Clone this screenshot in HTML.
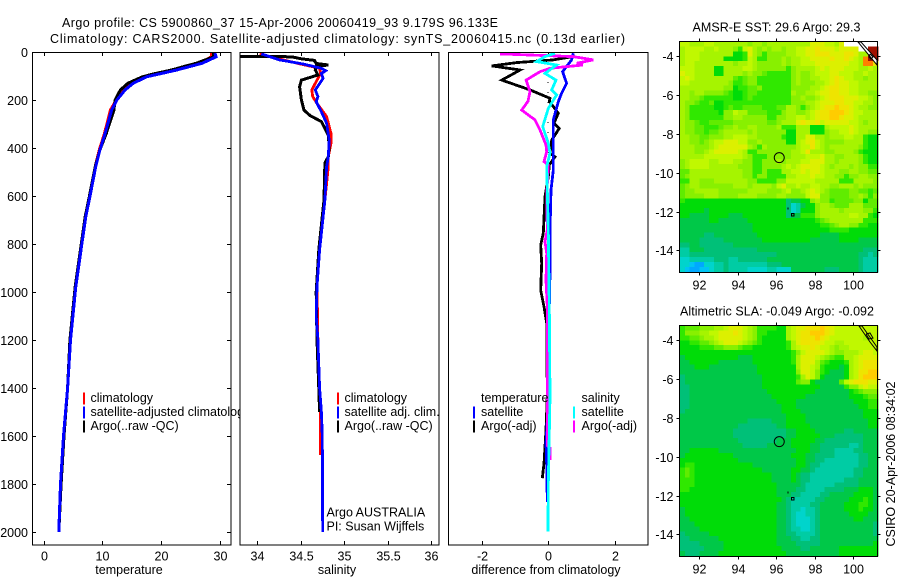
<!DOCTYPE html>
<html>
<head>
<meta charset="utf-8">
<title>Argo profile</title>
<style>
html,body{margin:0;padding:0;background:#fff;}
svg{display:block;}
text{font-family:"Liberation Sans",Arial,sans-serif;font-size:12.5px;fill:#000;}
</style>
</head>
<body>
<svg id="chart" xmlns="http://www.w3.org/2000/svg" width="900" height="580" viewBox="0 0 900 580">
<rect x="0" y="0" width="900" height="580" fill="#fff"/>
<text x="62" y="27" textLength="436">Argo profile: CS 5900860_37 15-Apr-2006 20060419_93 9.179S 96.133E</text>
<text x="50" y="43" textLength="575">Climatology: CARS2000. Satellite-adjusted climatology: synTS_20060415.nc (0.13d earlier)</text>
<defs>
<clipPath id="clipT"><rect x="32" y="52" width="199" height="493"/></clipPath>
<clipPath id="clipS"><rect x="240" y="52" width="199" height="493"/></clipPath>
<clipPath id="clipD"><rect x="448" y="52" width="200" height="493"/></clipPath>
</defs>
<g id="panels"></g>
<g id="maps"></g>
<text x="692.5" y="31.5" textLength="168">AMSR-E SST: 29.6 Argo: 29.3</text>
<text x="680" y="315.5" textLength="194">Altimetric SLA: -0.049 Argo: -0.092</text>
<text transform="translate(895,546.5) rotate(-90)" textLength="165">CSIRO 20-Apr-2006 08:34:02</text>
</svg>
<script>
// ---------- Temperature panel data ----------
const tempDepths = [5,20,47,60,75,90,103,130,158,200,242,339,408,478,603,686,804,978,1200,1400,1600,1800,2000];
const tempClim   = [28.6,28.6,26.5,24.6,22.4,19.7,17.4,15.0,13.6,12.4,11.4,10.4,9.5,8.8,7.9,7.2,6.5,5.5,4.6,4.1,3.4,2.9,2.6];
const tempArgo   = [29.0,29.0,26.0,24.0,21.8,19.0,16.9,14.4,13.1,12.2,12.0,10.7,9.6,8.8,7.8,7.1,6.4,5.4,4.5,4.1,3.5,3.0,2.6];
const tempSat    = [29.2,29.4,27.0,25.0,22.7,20.0,17.6,15.3,13.9,12.5,11.6,10.5,9.6,8.9,7.9,7.2,6.5,5.5,4.6,4.1,3.4,2.9,2.6];
// ---------- Salinity panel data ----------
const salClimDepths = [8,33,50,68,89,110,158,186,214,269,339,381,436,478,617,825,978,1200,1400,1500,1680];
const salClim       = [34.03,34.3,34.5,34.72,34.73,34.70,34.63,34.64,34.69,34.80,34.85,34.85,34.82,34.82,34.78,34.72,34.69,34.70,34.72,34.73,34.73];
const salArgoDepths = [18,20,28,35,48,54,60,75,96,117,145,200,242,265,290,346,395,436,463,617,825,1000,1200,1400,1500];
const salArgo       = [33.7,34.4,34.5,34.66,34.68,34.82,34.68,34.67,34.70,34.51,34.49,34.51,34.54,34.61,34.74,34.82,34.83,34.82,34.78,34.77,34.71,34.68,34.69,34.71,34.72];
const salSatDepths  = [8,33,50,68,78,89,110,158,186,207,249,297,367,436,478,617,825,978,1100,1200,1400,1500,1600,2000];
const salSat        = [34.05,34.26,34.53,34.74,34.79,34.74,34.76,34.67,34.70,34.68,34.74,34.80,34.83,34.82,34.80,34.78,34.72,34.69,34.68,34.70,34.72,34.74,34.75,34.755];
// ---------- Difference panel data ----------
const diffTempSatDepths = [5,33,82,130,172,207,283,380,492,575,742,921,1061,1436,1533,1631,1714,1874];
const diffTempSat       = [0.76,0.71,0.44,0.56,0.41,0.31,0.16,0.16,0.16,0.09,0.06,0.06,0.04,0.03,-0.02,-0.06,-0.04,-0.02];
const diffTempArgoDepths = [18,33,44,58,75,117,158,193,205,255,297,318,367,421,437,470,520,603,755,804,880,992,1061,1130,1430,1575,1714,1776];
const diffTempArgo       = [0.8,0.16,-0.94,-1.69,-0.84,-1.39,-0.54,0.06,0.04,0.31,0.18,0.34,0.11,0.06,0.21,0.04,0.01,-0.09,-0.14,-0.22,-0.19,-0.22,-0.12,-0.04,-0.02,-0.06,-0.12,-0.17];
const diffSalSatDepths = [5,19,40,54,89,117,158,179,235,311,380,421,478,742,1061,1436,1800,1998];
const diffSalSat       = [0.21,-0.09,-0.34,0.26,-0.09,0.24,0.11,0.26,0.01,-0.16,0.01,0.06,-0.04,0.01,0.04,0.06,0.01,0.0];
const diffSalArgoDepths = [8,19,33,47,54,68,82,117,140,165,205,242,283,325,388,415,457,470,603,742,790,838,950,1061,1400,1640,1650,1700];
const diffSalArgo       = [-1.44,0.76,1.36,0.86,1.05,0.06,-0.24,-0.66,-0.60,-0.54,-0.60,-0.79,-0.39,-0.24,-0.06,-0.04,-0.12,0.01,-0.04,-0.02,-0.09,-0.04,-0.06,-0.02,-0.02,-0.02,0.06,0.06];
const zeroLineDepths = [0,2000];
const zeroLineValues = [0,0];
// ---------- Tick labels ----------
const depthTicks = [0,200,400,600,800,1000,1200,1400,1600,1800,2000];
const tempTicks = [0,10,20,30];
const salTicks = [34,34.5,35,35.5,36];
const diffTicks = [-2,0,2];
const lonTicks = [92,94,96,98,100];
const latTicks = [-4,-6,-8,-10,-12,-14];
// ---------- Map data (one character per cell, see mapPalette) ----------
const sstGrid = [
"BBAAABBAAAAAAA9AA9AAAAAAAAACCCBBACWWWWWWW",
"ABBBBAABAAA97BCA9A9AA9AABBCCDCCCBCCCCWWGG",
"ABBBAAAAAAA667CA979999AABBCCDDDCCCDDCAAGG",
"ABBBAAAAA66667BA77999A9AABBCCCCDCCDCBAFGG",
"ABBAAAAAAAA9AABA99999A9AABBBCCCCCCCBBAFFD",
"BBBAAAA66AAAABBA99999979AAAABCBCCCBBBAABA",
"CBBAAAA66AAAA9A998777779A99ABBBCCBBBAABAA",
"BCBAAAAAAAA8789977777779A99AABBCDCBBAA9AA",
"BBAAAAAAAA97789977777779A999AABCDCCBBAAAA",
"AAAAAAAAA996778897777779999AABCDDCCBBAAAA",
"AA9AA999987667887777777A99AABCCDDCCBBAA99",
"AA998777777667877777777 9A99ABCDDDCCCBBA9".replace(" ","9"),
"A99877866777777777777779 9AABCCCDDCCBBAA9".replace(" ","9"),
"A977777667877888877788AA979ABCDDEDDCBAA99",
"A9777777699BAA88887779AA99ABCDDEEEDCBBAAA",
"A9777777799AA999997799AABBABCDDEEDCCBAAAA",
"A99877888889999999889AAACDCCDBCCCCCBBA9AA",
"A9988777899A99AA9999A777AAA666ABBBBCBAAAA",
"A99887889AAAAA9A99999966AAA6669AABBCBAA99",
"AA9988999AABBBAA99999766AACCAA9AAABBAA766",
"AA9989ABBCCCBB99A9999966ABCDBA9999AAAA766",
"AAA999ABCCCCCCA97A999999ABBDBA9AAAAAA9766",
"AAA99ABCCCCCBA77999999 9AABDAAA99AAAA9766".replace(" ",""),
"AAAAABBBBBBBBA977799999AAABBBCAA99AAA9766",
"9ABBBBAABBBAA9977999A9AAABBCCCAA9AAAA9766",
"9ABBBBAAAAAA999779999ABABCCCCBA9AAA9A9977",
"88AAAAAAAAAAA99779777AABBCBCCBAAA99AA9988",
"89AAAAAAAAAAA997997777AABBBCBBAA99799AA99",
"77AA999AAAAAAA99777799BBBBBBAAAAA777AAAA9",
"89AA9999999AAA9AAAA9BCAABAABBAA99AAA9A999",
"899AAAAA999999AAAA999AB99ABCBA98888998878",
"89999AAA9999AAAA9999AA9999BCC99888899A979",
"7666666666666666666666455669A997888899688",
"66666666666666666666664235669AA9888AAA888",
"66666566666666666666664236669AAAA9AAAA997",
"66555566665556666666664557779AAAAAABBAA76",
"55555566555555666666666666667 89AAAAAAA77".replace(" ",""),
"55555555555555566666666666666778 9AA99776".replace(" ",""),
"55555555555555566666666666666667777666666",
"55555445555555556666666666666555566666666",
"55554444455555555666666666655555566665555",
"44554444444555555555555555555555555555555",
"33555444444444445555555555555555555555444",
"33444444444444444444555555555555555554434",
"22333334443344444455555555555555555554333",
"22100223343333333344455555555555555554333",
"21001123343333222233222555555544455554333"
];
const slaGrid = [
"7888999AABCCCBA9777766ABCCDDDEDCBBBBBBBBB",
"7999AABBCCCDCBA9776666ABCDDEEEDCBBBBBBBBB",
"77889AABCCCCCBA9766666ABCDDDEDCBBBBBBBABB",
"6677889ABCCCBA987666667ACDDDDCBBAABBBBBBB",
"66667778899987766666667ABCCDCBBA9AABBBBBB",
"66666666666666666666666 79BCCCCBA99AAABCCB".replace(" ",""),
"56666666666655566666666 7ACCCBA9877AABCCC".replace(" ",""),
"55666666555555566666666 7ACCCA876667ABCDD".replace(" ",""),
"55566655555555556666666 6ACCBA766656ABCDD".replace(" ",""),
"5555555555555555666666669CCB97655 56ABDDE".replace(" ",""),
"4555555555555555566666667ACB965555 6ABDEE".replace(" ",""),
"45555555555555555666666689965555 58BCDDDC".replace(" ",""),
"4455555555555555566666666666655555799BCB",
"44555555555555555566666666665555555 67899".replace(" ",""),
"4455555555555555555666666655555555566678",
"44555555555555555555666655555555555 56667".replace(" ",""),
"44555555555555555555566655555555555 55667".replace(" ",""),
"45555555555555555555566665555555555 55566".replace(" ",""),
"55555555555555555555556666555555555 55566".replace(" ",""),
"55555555555555444445556666555555555 55556".replace(" ",""),
"55555555555544444444556666655555555 55556".replace(" ",""),
"55555555555444444444445566665555554455555",
"55555555555444444444445566666555444444555",
"55555555555544444444555666665544444444555",
"55555555555554444455555666655444444334555",
"55666666555555555555555566655444333344555",
"56666666666555555555555666554444333334455",
"66666666666655555555555566554433333334455",
"67766666666666655555555566544333333334455",
"78766666666666666555555665543333333344555",
"78766666666666666665555654433333333344555",
"77766666666666666665555654433333334445555",
"77766666666666666666555554333333444445555",
"77666666666666666666555544333344445556665",
"66666666666666666666555443333445555566665",
"66666666666666666666654333334455555666765",
"66666666666666666666554333344555556667765",
"56666666666666666666554332334555556667665",
"56666666666666666666554322334555555666655",
"55666666666666666666554322234555555566555",
"55566666666666666666554322234555555555554",
"55556666666666666666554332234555555555554",
"45555566666666666666554433334555555555554",
"44555555666666666666555443344555555555555",
"44445555566666666666555544444555555555556",
"44444555566666666666655554455555566666666",
"54445555666666666666665555555555566666666"
];
const mapPalette = {"0":"#00a8ff","1":"#00c4f4","2":"#00d4cc","3":"#00cca4","4":"#00c078","5":"#00c848","6":"#00dc08","7":"#30e800","8":"#60ec00","9":"#88f000","A":"#a6f400","B":"#c0f800","C":"#dcf000","D":"#eee400","E":"#ffcc00","F":"#ff8000","G":"#a01000","W":"#ffffff"};

// ---------- Axis functions ----------
const depthY = d => 52 + 0.24 * d;
const tempX = v => 43.5 + 5.87 * v;
const salX = v => 257 + 87 * (v - 34);
const diffX = v => 548 + 33.25 * v;
const lonX = v => 680.1 + 19.2 * (v - 91);
const sstLatY = v => 56.3 + 19.4 * (-4 - v);
const slaLatY = v => 340.3 + 19.4 * (-4 - v);

const SVGNS = "http://www.w3.org/2000/svg";
const panels = document.getElementById("panels");
const maps = document.getElementById("maps");

function mk(parent, tag, name, attrs, txt) {
  const el = document.createElementNS(SVGNS, tag);
  
  
  for (const k in attrs) el.setAttribute(k, attrs[k]);
  if (txt !== undefined) el.textContent = txt;
  parent.appendChild(el);
  return el;
}
function seg(parent, name, x1, y1, x2, y2) {
  return mk(parent, "line", name, {x1:x1, y1:y1, x2:x2, y2:y2, stroke:"#000", "stroke-width":1, "shape-rendering":"crispEdges"});
}
function series(parent, name, depths, vals, xf, color, w, extra) {
  const pts = depths.map((d, i) => xf(vals[i]).toFixed(1) + "," + depthY(d).toFixed(1)).join(" ");
  const attrs = {points:pts, fill:"none", stroke:color, "stroke-width":w, "shape-rendering":"crispEdges"};
  for (const k in (extra || {})) attrs[k] = extra[k];
  return mk(parent, "polyline", name, attrs);
}
function panelFrame(name, x0, x1, xf, ticks, clip, xlabel, xlabelX) {
  const g = mk(panels, "g", name, {});
  mk(g, "rect", name + "-background", {x:x0, y:52, width:x1 - x0, height:493, fill:"#fff"});
  ticks.forEach(t => {
    const x = Math.round(xf(t)) + 0.5;
    seg(g, name + "-top-tick", x, 52, x, 56);
    seg(g, name + "-bottom-tick", x, 541, x, 545);
    mk(g, "text", name + "-x-tick-label", {x:x, y:560.5, "text-anchor":"middle"}, String(t));
  });
  mk(g, "text", name + "-x-axis-title", {x:xlabelX, y:574, "text-anchor":"middle"}, xlabel);
  const lines = mk(g, "g", name + "-series", {"clip-path":"url(#" + clip + ")"});
  mk(g, "rect", name + "-frame", {x:x0 + 0.5, y:52.5, width:x1 - x0 - 1, height:492.5, fill:"none", stroke:"#000", "stroke-width":1, "shape-rendering":"crispEdges"});
  return {g:g, lines:lines};
}
function legendEntry(g, name, barX, textX, baseY, color, label) {
  if (color) mk(g, "rect", name + "-swatch", {x:barX, y:baseY - 9.5, width:2, height:12, fill:color, "shape-rendering":"crispEdges"});
  mk(g, "text", name, {x:textX, y:baseY}, label);
}

// ---------- Temperature panel ----------
const pT = panelFrame("temperature-panel", 32, 231.5, tempX, tempTicks, "clipT", "temperature", 129);
depthTicks.forEach(d => {
  const y = Math.round(depthY(d)) + 0.5;
  seg(pT.g, "depth-tick-left", 32, y, 36, y);
  seg(pT.g, "depth-tick-right", 227, y, 231, y);
  mk(pT.g, "text", "depth-tick-label", {x:28, y:y + 4.5, "text-anchor":"end"}, String(d));
});
series(pT.lines, "temperature-climatology-line", tempDepths, tempClim, tempX, "#ff0000", 3);
series(pT.lines, "temperature-argo-line", tempDepths, tempArgo, tempX, "#000000", 3);
series(pT.lines, "temperature-satellite-line", tempDepths, tempSat, tempX, "#0000ff", 3);
legendEntry(pT.g, "legend-climatology", 83, 90.5, 402, "#ff0000", "climatology");
legendEntry(pT.g, "legend-satellite-adjusted", 83, 90.5, 416, "#0000ff", "satellite-adjusted climatology");
legendEntry(pT.g, "legend-argo", 83, 90.5, 430, "#000000", "Argo(..raw -QC)");

// ---------- Salinity panel ----------
const pS = panelFrame("salinity-panel", 239.5, 439.5, salX, salTicks, "clipS", "salinity", 337);
series(pS.lines, "salinity-climatology-line", salClimDepths, salClim, salX, "#ff0000", 2.8);
series(pS.lines, "salinity-argo-line", salArgoDepths, salArgo, salX, "#000000", 3);
series(pS.lines, "salinity-satellite-line", salSatDepths, salSat, salX, "#0000ff", 2.8);
legendEntry(pS.g, "salinity-legend-climatology", 337, 344.5, 402, "#ff0000", "climatology");
legendEntry(pS.g, "salinity-legend-satellite", 337, 344.5, 416, "#0000ff", "satellite adj. clim.");
legendEntry(pS.g, "salinity-legend-argo", 337, 344.5, 430, "#000000", "Argo(..raw -QC)");
legendEntry(pS.g, "argo-country-note", 0, 326.5, 516.5, null, "Argo AUSTRALIA");
legendEntry(pS.g, "principal-investigator-note", 0, 326.5, 530.5, null, "PI: Susan Wijffels");

// ---------- Difference panel ----------
const pD = panelFrame("difference-panel", 448, 648.5, diffX, diffTicks, "clipD", "difference from climatology", 546);
series(pD.lines, "zero-reference-line", zeroLineDepths, zeroLineValues, diffX, "#000000", 1, {"stroke-dasharray":"1 9"});
series(pD.lines, "difference-temp-argo-line", diffTempArgoDepths, diffTempArgo, diffX, "#000000", 2.8);
series(pD.lines, "difference-temp-satellite-line", diffTempSatDepths, diffTempSat, diffX, "#0000ff", 2.8);
series(pD.lines, "difference-sal-argo-line", diffSalArgoDepths, diffSalArgo, diffX, "#ff00ff", 2.8);
series(pD.lines, "difference-sal-satellite-line", diffSalSatDepths, diffSalSat, diffX, "#00ffff", 2.8);
legendEntry(pD.g, "legend-temperature-header", 0, 481, 402, null, "temperature");
legendEntry(pD.g, "legend-temp-satellite", 473, 481, 416, "#0000ff", "satellite");
legendEntry(pD.g, "legend-temp-argo", 473, 481, 430, "#000000", "Argo(-adj)");
legendEntry(pD.g, "legend-salinity-header", 0, 581.5, 402, null, "salinity");
legendEntry(pD.g, "legend-sal-satellite", 573, 581.5, 416, "#00ffff", "satellite");
legendEntry(pD.g, "legend-sal-argo", 573, 581.5, 430, "#ff00ff", "Argo(-adj)");

// ---------- Maps ----------
const gridLon0 = 91, gridLat0 = -3.24, gridLonStep = 0.251, gridLatStep = 0.2525;
function drawMap(name, grid, latY, top, bottom, coastA, coastB, coastFill) {
  const g = mk(maps, "g", name, {});
  const left = 679.5, right = 877.5;
  grid.forEach((row, r) => {
    for (let c = 0; c < 41; c++) {
      const ch = row[c] || row[row.length - 1];
      const x0 = lonX(gridLon0 + c * gridLonStep), x1 = lonX(gridLon0 + (c + 1) * gridLonStep);
      const y0 = latY(gridLat0 - r * gridLatStep), y1 = latY(gridLat0 - (r + 1) * gridLatStep);
      mk(g, "rect", name + "-cell", {x:x0.toFixed(1), y:y0.toFixed(1), width:(x1 - x0 + 0.6).toFixed(1), height:(y1 - y0 + 0.6).toFixed(1), fill:mapPalette[ch], "shape-rendering":"crispEdges"});
    }
  });
  mk(g, "rect", name + "-bottom-mask", {x:left, y:latY(gridLat0 - grid.length * gridLatStep) + 0.6, width:198, height:6, fill:"#fff", "shape-rendering":"crispEdges"});
  mk(g, "polygon", name + "-coastline-fill", {points:coastA, fill:coastFill, stroke:"#000", "stroke-width":1});
  mk(g, "polyline", name + "-coastline-detail", {points:coastB, fill:"none", stroke:"#000", "stroke-width":1});
  mk(g, "rect", name + "-frame", {x:left, y:top, width:right - left, height:bottom - top, fill:"none", stroke:"#000", "stroke-width":1, "shape-rendering":"crispEdges"});
  lonTicks.forEach(v => {
    const x = Math.round(lonX(v)) + 0.5;
    seg(g, name + "-top-tick", x, top - 3, x, top);
    seg(g, name + "-bottom-tick", x, bottom, x, bottom + 3);
    mk(g, "text", name + "-lon-label", {x:x, y:bottom + 17, "text-anchor":"middle"}, String(v));
  });
  latTicks.forEach(v => {
    const y = Math.round(latY(v)) + 0.5;
    seg(g, name + "-left-tick", left - 3, y, left, y);
    seg(g, name + "-right-tick", right, y, right + 3, y);
    mk(g, "text", name + "-lat-label", {x:673.5, y:y + 4.5, "text-anchor":"end"}, String(v));
  });
  const floatLon = 96.133, floatLat = -9.179;
  mk(g, "circle", name + "-float-position", {cx:lonX(floatLon) + 0.6, cy:latY(floatLat) + 0.9, r:5, fill:"none", stroke:"#000", "stroke-width":1});
  const islandLon = 96.85, islandLat = -12.15;
  mk(g, "rect", name + "-island-square", {x:lonX(islandLon) - 1, y:latY(islandLat) - 1, width:2.5, height:2.5, fill:"none", stroke:"#000", "stroke-width":0.8, "shape-rendering":"crispEdges"});
  const isletLon = 96.6, isletLat = -11.8;
  mk(g, "rect", name + "-islet-dot", {x:lonX(isletLon), y:latY(isletLat), width:1, height:2, fill:"#000", "shape-rendering":"crispEdges"});
}
drawMap("sst-map", sstGrid, sstLatY, 41.5, 272.5, "858,42 861,42 877,60 877,65", "870,54 873,57 871,59 869,57 870,54", "#ffffff");
drawMap("sla-map", slaGrid, slaLatY, 325.5, 556.5, "859,326 862,326 877,347 877,351 870,342", "866,334 870,333 873,338 869,339 866,334", "none");
</script>
</body>
</html>
